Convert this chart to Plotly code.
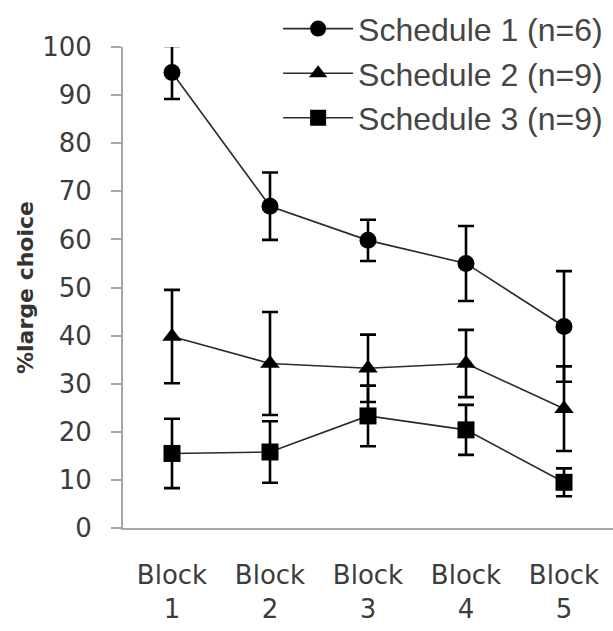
import plotly.graph_objects as go

# Session blocks on the x axis
blocks = ["Block<br>1", "Block<br>2", "Block<br>3", "Block<br>4", "Block<br>5"]

# Mean % large choice per block, with error bar half-widths
sched1_mean = [94.7, 66.9, 59.8, 55.0, 41.9]
sched1_err = [5.5, 7.0, 4.3, 7.8, 11.5]

sched2_mean = [39.8, 34.2, 33.2, 34.2, 24.8]
sched2_err = [9.7, 10.7, 7.0, 7.0, 8.8]

sched3_mean = [15.5, 15.8, 23.3, 20.4, 9.5]
sched3_err = [7.2, 6.4, 6.3, 5.2, 2.9]

series_names = ["Schedule 1 (n=6)", "Schedule 2 (n=9)", "Schedule 3 (n=9)"]
y_ticks = [0, 10, 20, 30, 40, 50, 60, 70, 80, 90, 100]

series = [
    (series_names[0], sched1_mean, sched1_err, "circle"),
    (series_names[1], sched2_mean, sched2_err, "triangle-up"),
    (series_names[2], sched3_mean, sched3_err, "square"),
]

fig = go.Figure()
for name, mean, err, symbol in series:
    fig.add_trace(go.Scatter(
        x=blocks,
        y=mean,
        name=name,
        mode="lines+markers",
        line=dict(color="#2a2a2a", width=1.6),
        marker=dict(symbol=symbol, size=17, color="black",
                    line=dict(width=0)),
        error_y=dict(type="data", array=err, visible=True,
                     color="black", thickness=2.6, width=8),
        cliponaxis=False,
    ))

axis_font = dict(family="DejaVu Sans", size=26, color="#3c3c3c")

fig.update_layout(
    width=613,
    height=631,
    margin=dict(l=123, r=0, t=47, b=103),
    paper_bgcolor="white",
    plot_bgcolor="white",
    showlegend=True,
    legend=dict(
        x=0.99, y=1.095, xanchor="right", yanchor="top",
        font=dict(family="Liberation Sans", size=32, color="#454545"),
        bgcolor="rgba(0,0,0,0)",
        itemwidth=70,
        tracegroupgap=0,
    ),
    xaxis=dict(
        type="category",
        range=[-0.5, 4.5],
        showgrid=False,
        zeroline=False,
        showline=True,
        linecolor="#a6a6a6",
        linewidth=2,
        ticks="",
        ticklabelstandoff=23,
        tickfont=axis_font,
    ),
    yaxis=dict(
        range=[0, 100],
        tickvals=y_ticks,
        showgrid=False,
        zeroline=False,
        showline=True,
        linecolor="#a6a6a6",
        linewidth=2,
        ticks="outside",
        ticklen=10,
        tickwidth=2,
        tickcolor="#a6a6a6",
        ticklabelstandoff=14,
        tickfont=axis_font,
        title=dict(text="<b>%large choice</b>",
                   font=dict(family="DejaVu Sans", size=22, color="#333333"),
                   standoff=2),
    ),
)

fig.write_html("out.html")
